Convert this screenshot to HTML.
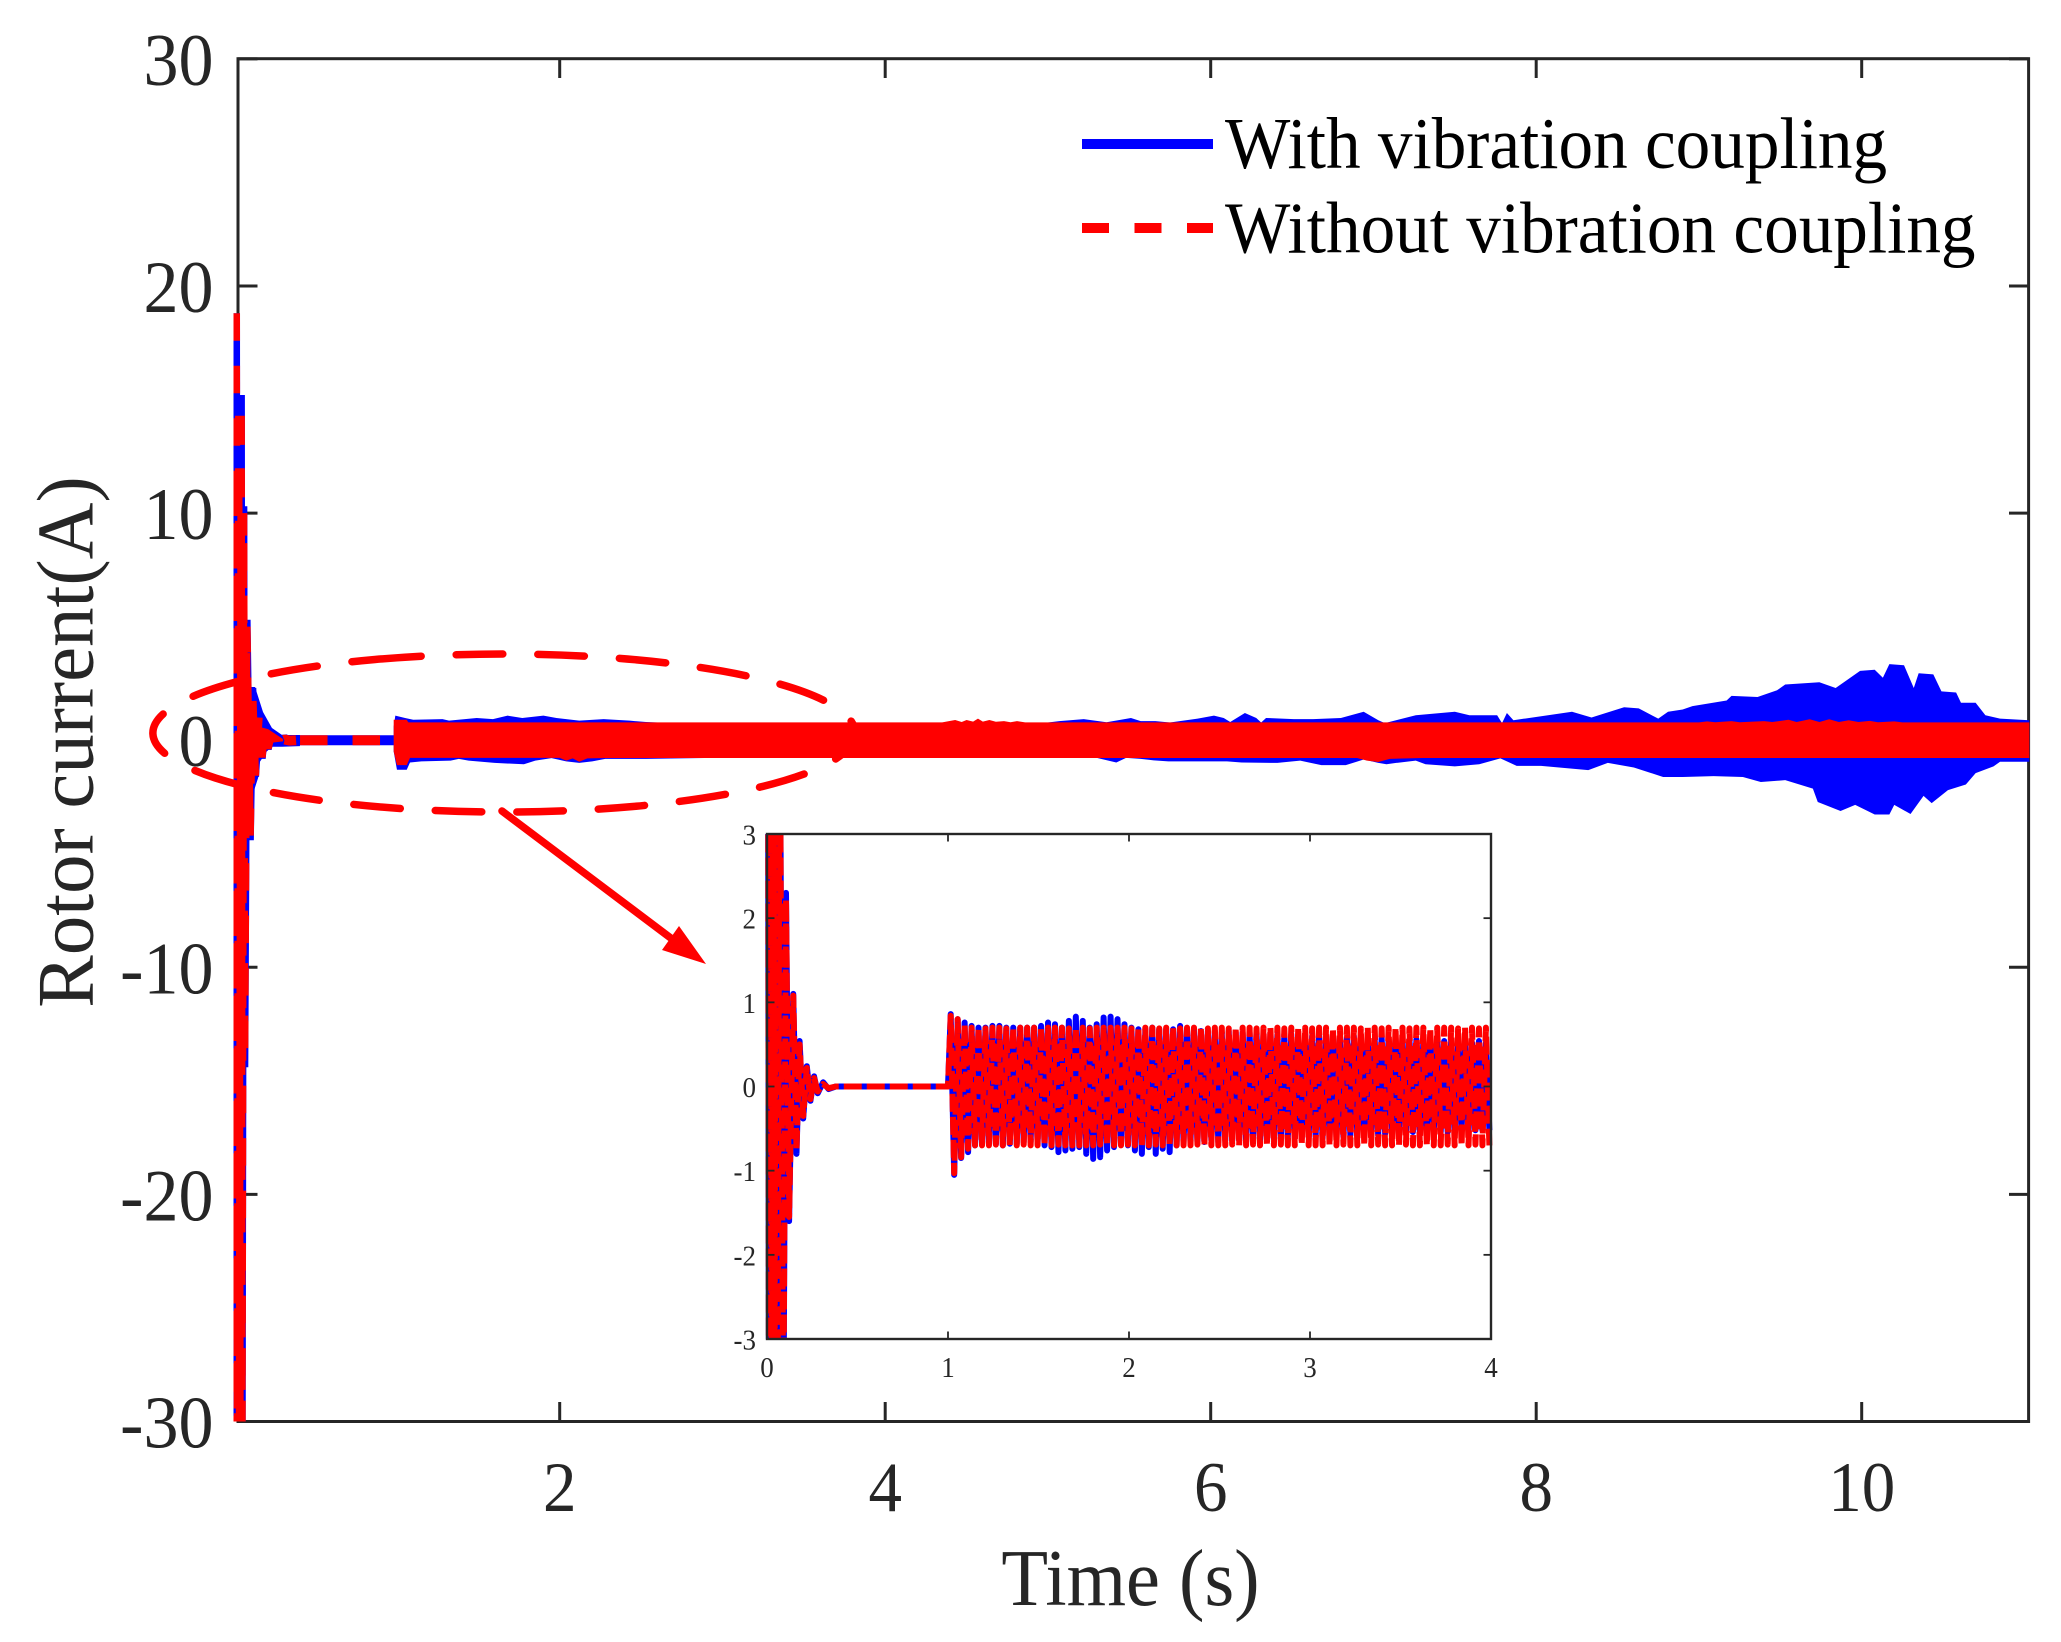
<!DOCTYPE html>
<html lang="en">
<head>
<meta charset="utf-8">
<title>Rotor current over time</title>
<style>
html,body{margin:0;padding:0;background:#fff;overflow:hidden;}
svg{display:block;font-family:"Liberation Serif",serif;}
</style>
</head>
<body>
<svg id="chart" width="2061" height="1642" viewBox="0 0 2061 1642">
  <defs>
    <clipPath id="main-clip"><rect x="233.5" y="58.7" width="1796.5" height="1362.8"/></clipPath>
    <clipPath id="inset-clip"><rect x="764.5" y="834" width="729.5" height="505"/></clipPath>
  </defs>
  <rect x="0" y="0" width="2061" height="1642" fill="#fff"/>
  <g id="main-axes"></g>
  <g id="main-series" clip-path="url(#main-clip)"></g>
  <path id="zoom-ellipse" d="M375 659.5A351 79 0 1 1 633 806.5A351 79 0 1 1 375 659.5Z" fill="none" stroke="#ff0000" stroke-width="7.5" stroke-linecap="round" stroke-dasharray="46.5 35"/>
  <g>
    <line x1="502" y1="811" x2="680" y2="945" stroke="#ff0000" stroke-width="7.5" stroke-linecap="round"/>
    <polygon points="706,964 662,950 679,926" fill="#ff0000"/>
  </g>
  <rect x="767" y="834" width="724" height="505" fill="#fff"/>
  <g id="inset-series" clip-path="url(#inset-clip)"></g>
  <g id="inset-axes"></g>
  <g id="legend">
    <line x1="1082" y1="144" x2="1213" y2="144" stroke="#0000ff" stroke-width="10"/>
    <text x="0" y="0" transform="translate(1225 168) scale(1 1.06)" font-size="69.2" fill="#000">With vibration coupling</text>
    <line x1="1082" y1="228" x2="1213" y2="228" stroke="#ff0000" stroke-width="10" stroke-dasharray="27 25.5"/>
    <text x="0" y="0" transform="translate(1225 252.7) scale(1 1.06)" font-size="69.2" fill="#000">Without vibration coupling</text>
  </g>
  <text transform="translate(92.4 742) scale(1.08 1.06) rotate(-90)" text-anchor="middle" font-size="74.3" fill="#262626">Rotor current(A)</text>
  <text transform="translate(1130.5 1605) scale(1 1.06)" text-anchor="middle" font-size="76.4" fill="#262626">Time (s)</text>
</svg>
<script>
/* ---------- axis tick labels ---------- */
const mainXTicks = [2, 4, 6, 8, 10];
const mainYTicks = [30, 20, 10, 0, -10, -20, -30];
const insetXTicks = [0, 1, 2, 3, 4];
const insetYTicks = [3, 2, 1, 0, -1, -2, -3];

/* ---------- start-up transient, shared by main plot and inset ---------- */
const transientT = [0.005, 0.012, 0.02, 0.028, 0.035, 0.04, 0.05, 0.056, 0.07, 0.09, 0.105, 0.122, 0.145, 0.163, 0.18, 0.2, 0.22, 0.24, 0.26, 0.28, 0.31, 0.34, 0.38];
const withTransient = [18.8, -35, 12.4, -33, 15.2, -30.5, 10.3, -14.4, 5.3, -4.4, 2.3, -1.6, 1.1, -0.8, 0.54, -0.38, 0.24, -0.17, 0.12, -0.08, 0.05, -0.03, 0];
const withoutTransient = [18.8, -35, 12, -33, 14.8, -30, 10, -14, 5, -4.2, 2.22, -1.55, 1.08, -0.75, 0.5, -0.35, 0.22, -0.15, 0.1, -0.06, 0.03, -0.02, 0];

/* ---------- transient tail, filled solid in the main plot ---------- */
const withTailUpperT = [0.08, 0.128, 0.177, 0.232, 0.294, 0.404];
const withTailUpperV = [2.34, 2.34, 1.24, 0.54, 0.23, 0.23];
const withTailLowerT = [0.08, 0.109, 0.147, 0.157, 0.2, 0.232, 0.294, 0.404];
const withTailLowerV = [-2.5, -2.5, -1.66, -0.96, -0.5, -0.29, -0.29, -0.26];
const withoutTailUpperT = [0.08, 0.097, 0.158, 0.208, 0.3];
const withoutTailUpperV = [1.03, 1.03, 0.58, 0.49, 0.05];
const withoutTailLowerT = [0.08, 0.109, 0.144, 0.158, 0.208, 0.3];
const withoutTailLowerV = [-1.9, -1.9, -1.17, -0.29, -0.13, -0.05];

/* ---------- quiet interval before excitation starts ---------- */
const flatT = [0.38, 1.0];
const flatWith = [0, 0];
const flatWithout = [0, 0];

/* ---------- main plot envelopes, t from 1 to 11 s ---------- */
const withUpperT = [0.98, 0.99, 1.05, 1.1, 1.28, 1.32, 1.49, 1.59, 1.68, 1.77, 1.9, 1.98, 2.12, 2.27, 2.43, 2.53, 2.6, 5.0, 5.07, 5.22, 5.36, 5.51, 5.57, 5.66, 5.75, 5.92, 6.02, 6.08, 6.12, 6.21, 6.28, 6.31, 6.34, 6.51, 6.63, 6.8, 6.94, 7.03, 7.07, 7.26, 7.5, 7.59, 7.74, 7.76, 7.79, 7.82, 7.86, 8.22, 8.34, 8.54, 8.63, 8.75, 8.81, 8.9, 8.96, 9.17, 9.2, 9.36, 9.42, 9.48, 9.53, 9.74, 9.84, 9.92, 9.99, 10.08, 10.13, 10.17, 10.26, 10.32, 10.35, 10.44, 10.49, 10.58, 10.61, 10.7, 10.76, 10.85, 11.03];
const withUpperV = [0.6, 1.08, 0.98, 0.9, 0.93, 0.86, 0.98, 0.93, 1.08, 0.98, 1.08, 0.98, 0.86, 0.93, 0.86, 0.8, 0.78, 0.78, 0.84, 0.93, 0.79, 0.98, 0.84, 0.84, 0.78, 0.95, 1.08, 0.98, 0.8, 1.2, 0.98, 0.78, 0.98, 0.93, 0.93, 0.98, 1.25, 0.88, 0.75, 1.1, 1.25, 1.1, 1.1, 1.1, 0.75, 1.2, 0.88, 1.25, 1.0, 1.45, 1.4, 0.95, 1.25, 1.35, 1.5, 1.75, 1.95, 1.9, 2.05, 2.2, 2.45, 2.55, 2.3, 2.7, 3.05, 3.1, 2.75, 3.35, 3.3, 2.3, 2.95, 2.9, 2.15, 2.1, 1.65, 1.65, 1.1, 0.95, 0.88];
const withLowerT = [0.98, 1.0, 1.06, 1.08, 1.15, 1.33, 1.38, 1.44, 1.6, 1.78, 1.85, 1.95, 2.04, 2.12, 2.2, 2.28, 2.53, 2.94, 5.3, 5.42, 5.48, 5.57, 5.65, 5.74, 5.92, 6.1, 6.19, 6.41, 6.55, 6.68, 6.83, 6.94, 7.03, 7.08, 7.14, 7.26, 7.32, 7.5, 7.65, 7.78, 7.88, 8.03, 8.32, 8.44, 8.6, 8.78, 8.9, 9.09, 9.27, 9.38, 9.53, 9.7, 9.73, 9.87, 9.96, 10.08, 10.17, 10.2, 10.3, 10.38, 10.43, 10.53, 10.64, 10.7, 10.81, 10.85, 11.03];
const withLowerV = [-0.5, -1.3, -1.3, -0.98, -0.93, -0.9, -0.82, -0.9, -1.0, -1.06, -0.9, -0.79, -0.93, -1.0, -0.93, -0.82, -0.82, -0.78, -0.78, -0.98, -0.78, -0.82, -0.89, -0.93, -0.93, -0.93, -0.98, -1.0, -0.9, -1.1, -1.1, -0.85, -1.0, -1.06, -1.0, -0.9, -1.06, -1.15, -1.06, -0.8, -1.13, -1.13, -1.32, -1.0, -1.2, -1.62, -1.62, -1.58, -1.62, -1.84, -1.76, -2.13, -2.72, -3.12, -2.85, -3.27, -3.27, -2.85, -3.25, -2.45, -2.77, -2.2, -1.95, -1.45, -1.15, -0.95, -0.95];
const withoutUpperT = [0.98, 1.06, 1.07, 4.35, 4.43, 4.47, 4.5, 4.54, 4.57, 4.6, 4.64, 4.68, 4.73, 4.77, 4.81, 4.86, 9.0, 9.05, 9.1, 9.2, 9.25, 9.4, 9.45, 9.55, 9.6, 9.68, 9.74, 9.8, 9.86, 9.92, 9.98, 10.05, 10.1, 10.2, 10.25, 11.03];
const withoutUpperV = [0.9, 0.9, 0.785, 0.785, 0.89, 0.8, 0.89, 0.82, 0.95, 0.82, 0.89, 0.81, 0.84, 0.79, 0.84, 0.785, 0.785, 0.83, 0.79, 0.84, 0.79, 0.84, 0.8, 0.9, 0.8, 0.92, 0.8, 0.92, 0.8, 0.88, 0.8, 0.85, 0.79, 0.83, 0.785, 0.785];
const withoutLowerT = [0.98, 1.0, 1.06, 1.08, 2.0, 2.04, 2.08, 2.12, 2.17, 2.3, 6.9, 6.96, 7.03, 7.1, 7.3, 11.03];
const withoutLowerV = [-0.5, -1.1, -1.1, -0.78, -0.78, -0.9, -0.8, -0.95, -0.8, -0.785, -0.785, -0.9, -0.96, -0.82, -0.785, -0.785];

/* ---------- inset oscillation peaks, one value per half cycle ---------- */
const insetPeakStart = 1.015;
const insetPeakStep = 0.0192;
const withPeaks = [
  .86,-1.05,.80,-.85,.76,-.78,.72,-.70,.70,-.68,.70,-.68,.72,-.68,.72,-.70,.70,-.68,.70,-.68,.70,-.66,.70,-.66,
  .70,-.68,.72,-.70,.76,-.72,.74,-.78,.70,-.76,.78,-.74,.83,-.72,.78,-.80,.70,-.86,.74,-.84,.82,-.76,.83,-.72,
  .80,-.68,.74,-.70,.70,-.76,.68,-.80,.68,-.72,.70,-.80,.68,-.74,.68,-.78,.68,-.70,.72,-.68,.68,-.66,.66,-.66,
  .66,-.66,.66,-.64,.66,-.66,.64,-.64,.66,-.64,.64,-.64,.64,-.66,.64,-.62,.64,-.64,.62,-.64,.64,-.62,.62,-.62,
  .62,-.62,.62,-.60,.60,-.62,.62,-.60,.60,-.60,.60,-.62,.60,-.58,.60,-.60,.58,-.60,.58,-.58,.60,-.58,.58,-.58,
  .58,-.58,.56,-.58,.58,-.56,.56,-.56,.58,-.56,.56,-.56,.56,-.54,.56,-.56,.54,-.56,.56,-.54,.54,-.54,.54,-.54,
  .54,-.54,.54,-.52,.54,-.54,.52,-.52,.54,-.52,.52,-.52
];
const withoutPeaks = [
  .84,-1.03,.80,-.84,.74,-.74,.70,-.70,.70,-.70,.69,-.70,.70,-.69,.70,-.70,.69,-.70,.70,-.70,.70,-.69,.70,-.70,
  .70,-.70,.69,-.70,.70,-.70,.70,-.69,.70,-.70,.69,-.70,.70,-.70,.70,-.70,.69,-.70,.70,-.69,.70,-.70,.70,-.70,
  .70,-.70,.70,-.69,.69,-.70,.70,-.70,.70,-.70,.70,-.69,.69,-.70,.70,-.70,.70,-.70,.69,-.70,.70,-.70,.70,-.69,
  .70,-.70,.69,-.70,.70,-.70,.70,-.70,.69,-.69,.70,-.70,.70,-.70,.70,-.69,.69,-.70,.70,-.70,.70,-.70,.70,-.69,
  .69,-.70,.70,-.70,.70,-.69,.70,-.70,.69,-.70,.70,-.70,.70,-.70,.69,-.70,.70,-.69,.70,-.70,.70,-.70,.69,-.70,
  .70,-.70,.70,-.69,.69,-.70,.70,-.70,.70,-.70,.70,-.69,.69,-.70,.70,-.70,.70,-.70,.69,-.70,.70,-.70,.70,-.69,
  .70,-.70,.69,-.70,.70,-.70,.70,-.69,.69,-.70,.70,-.70
];

/* ---------- axis functions ---------- */
const mainX = t => 234.2 + 162.75 * t;
const mainY = v => 740.2 - 22.71 * v;
const insetX = t => 767 + 181 * t;
/* values far outside the +/-3 inset range are limited so off-scale spikes stay inside the frame before clipping */
const insetY = v => 1086.5 - 84.17 * Math.max(-6, Math.min(6, v));

const NS = document.getElementById('chart').namespaceURI;
function make(parent, tag, attrs, text) {
  const el = document.createElementNS(NS, tag);
  for (const k in attrs) el.setAttribute(k, attrs[k]);
  if (text !== undefined) el.textContent = text;
  parent.appendChild(el);
  return el;
}
function linePath(ts, vs, xf, yf) {
  return ts.map((t, i) => (i ? 'L' : 'M') + xf(t).toFixed(2) + ' ' + yf(vs[i]).toFixed(2)).join('');
}
function areaPath(upT, upV, loT, loV, xf, yf) {
  const top = upT.map((t, i) => (i ? 'L' : 'M') + xf(t).toFixed(2) + ' ' + yf(upV[i]).toFixed(2));
  const bot = loT.map((t, i) => 'L' + xf(t).toFixed(2) + ' ' + yf(loV[i]).toFixed(2)).reverse();
  return top.join('') + bot.join('') + 'Z';
}

/* ---------- main axes ---------- */
const mainAxes = document.getElementById('main-axes');
const axisColor = '#262626';
const mainBox = make(mainAxes, 'rect', {x: 238, y: 58.7, width: 1790.6, height: 1362.8, fill: 'none', stroke: axisColor, 'stroke-width': 3});


mainXTicks.forEach(t => {
  const x = mainX(t);
  const low = make(mainAxes, 'line', {x1: x, x2: x, y1: 1421.5, y2: 1402, stroke: axisColor, 'stroke-width': 3});
  
  
  const high = make(mainAxes, 'line', {x1: x, x2: x, y1: 58.7, y2: 78, stroke: axisColor, 'stroke-width': 3});
  
  
  const label = make(mainAxes, 'text', {transform: 'translate(' + x + ' 1511) scale(1 1.06)', 'text-anchor': 'middle', 'font-size': 67, fill: axisColor}, String(t));
  
  
});
mainYTicks.forEach(v => {
  const y = mainY(v);
  const left = make(mainAxes, 'line', {x1: 238, x2: 257.5, y1: y, y2: y, stroke: axisColor, 'stroke-width': 3});
  
  
  const right = make(mainAxes, 'line', {x1: 2028.6, x2: 2009, y1: y, y2: y, stroke: axisColor, 'stroke-width': 3});
  
  
  const label = make(mainAxes, 'text', {transform: 'translate(213.5 ' + (y + 26) + ') scale(1 1.06)', 'text-anchor': 'end', 'font-size': 70, fill: axisColor}, String(v));
  
  
});

/* ---------- main series ---------- */
const mainSeries = document.getElementById('main-series');
const withBand = make(mainSeries, 'path', {d: areaPath(withUpperT, withUpperV, withLowerT, withLowerV, mainX, mainY), fill: '#0000ff'});


const withTail = make(mainSeries, 'path', {d: areaPath(withTailUpperT, withTailUpperV, withTailLowerT, withTailLowerV, mainX, mainY), fill: '#0000ff'});


const withLine = make(mainSeries, 'path', {d: linePath(transientT, withTransient, mainX, mainY), fill: 'none', stroke: '#0000ff', 'stroke-width': 10, 'stroke-linejoin': 'bevel'});


const withFlat = make(mainSeries, 'path', {d: linePath(flatT, flatWith, mainX, mainY), fill: 'none', stroke: '#0000ff', 'stroke-width': 10});


const withoutLine = make(mainSeries, 'path', {d: linePath(transientT, withoutTransient, mainX, mainY), fill: 'none', stroke: '#ff0000', 'stroke-width': 10, 'stroke-dasharray': '27.5 25', 'stroke-linejoin': 'bevel'});


const withoutTail = make(mainSeries, 'path', {d: areaPath(withoutTailUpperT, withoutTailUpperV, withoutTailLowerT, withoutTailLowerV, mainX, mainY), fill: '#ff0000'});


const withoutFlat = make(mainSeries, 'path', {d: linePath(flatT, flatWithout, mainX, mainY), fill: 'none', stroke: '#ff0000', 'stroke-width': 10, 'stroke-dasharray': '27.5 25', 'stroke-dashoffset': 48.5});


const withoutBand = make(mainSeries, 'path', {d: areaPath(withoutUpperT, withoutUpperV, withoutLowerT, withoutLowerV, mainX, mainY), fill: '#ff0000'});



/* ---------- inset series ---------- */
const insetSeries = document.getElementById('inset-series');
const peakTimes = withPeaks.map((_, i) => insetPeakStart + i * insetPeakStep);
const insetT = transientT.concat(flatT, peakTimes);
const insetWith = withTransient.concat(flatWith, withPeaks);
const insetWithout = withoutTransient.concat(flatWithout, withoutPeaks);
const insetBlue = make(insetSeries, 'path', {d: linePath(insetT, insetWith, insetX, insetY), fill: 'none', stroke: '#0000ff', 'stroke-width': 6, 'stroke-linejoin': 'round'});


const insetRed = make(insetSeries, 'path', {d: linePath(insetT, insetWithout, insetX, insetY), fill: 'none', stroke: '#ff0000', 'stroke-width': 6, 'stroke-dasharray': '18 5', 'stroke-linejoin': 'round'});



/* ---------- inset axes ---------- */
const insetAxes = document.getElementById('inset-axes');
const insetBox = make(insetAxes, 'rect', {x: 767, y: 834, width: 724, height: 505, fill: 'none', stroke: axisColor, 'stroke-width': 2.4});


insetXTicks.forEach(t => {
  const x = insetX(t);
  const low = make(insetAxes, 'line', {x1: x, x2: x, y1: 1339, y2: 1331.5, stroke: axisColor, 'stroke-width': 1.8});
  
  
  const high = make(insetAxes, 'line', {x1: x, x2: x, y1: 834, y2: 841.5, stroke: axisColor, 'stroke-width': 1.8});
  
  
  const label = make(insetAxes, 'text', {transform: 'translate(' + x + ' 1377) scale(1 1.06)', 'text-anchor': 'middle', 'font-size': 27, fill: axisColor}, String(t));
  
  
});
insetYTicks.forEach(v => {
  const y = 1086.5 - 84.17 * v;
  const left = make(insetAxes, 'line', {x1: 767, x2: 774.5, y1: y, y2: y, stroke: axisColor, 'stroke-width': 1.8});
  
  
  const right = make(insetAxes, 'line', {x1: 1491, x2: 1483.5, y1: y, y2: y, stroke: axisColor, 'stroke-width': 1.8});
  
  
  const label = make(insetAxes, 'text', {transform: 'translate(756 ' + (y + 10.5) + ') scale(1 1.06)', 'text-anchor': 'end', 'font-size': 27, fill: axisColor}, String(v));
  
  
});
</script>
</body>
</html>
